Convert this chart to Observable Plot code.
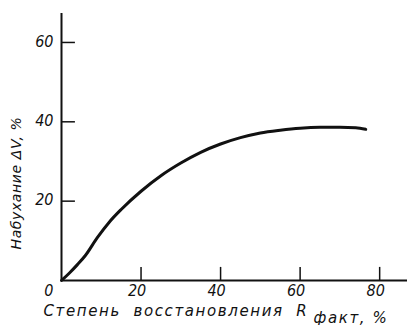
<!DOCTYPE html>
<html>
<head>
<meta charset="utf-8">
<script src="https://cdn.jsdelivr.net/npm/d3@7"></script>
<script src="https://cdn.jsdelivr.net/npm/@observablehq/plot@0.6"></script>
<style>
  html, body { margin: 0; padding: 0; background: #fff; }
  svg { display: block; }
  .ttl text { font-family: "DejaVu Sans", sans-serif; font-style: italic; letter-spacing: 1.6px; }
  .ttly text { font-family: "DejaVu Sans", sans-serif; font-style: italic; letter-spacing: 0.6px; }
  .tick text { font-family: "DejaVu Sans", sans-serif; font-style: italic; font-stretch: condensed; }
</style>
</head>
<body>
<div id="chart"></div>
<script>
// Data
const recovery = [0, 2, 4, 6, 9, 12, 15, 20, 25, 30, 35, 40, 45, 50, 55, 60, 65, 70, 74, 76.5];
const swelling = [0, 1.9, 4.0, 6.3, 10.8, 14.7, 17.9, 22.5, 26.4, 29.6, 32.3, 34.4, 36.0, 37.2, 37.9, 38.4, 38.6, 38.6, 38.5, 38.1];

const xTicks = [0, 20, 40, 60, 80];
const yTicks = [20, 40, 60];

const xTitle = "Степень  восстановления  R";
const xTitleSub = "факт, %";
const yTitle = "Набухание ΔV, %";

const data = recovery.map((x, i) => ({x, y: swelling[i]}));

const chart = Plot.plot({
  width: 407,
  height: 325,
  marginLeft: 61,
  marginRight: 0,
  marginTop: 13,
  marginBottom: 45,
  style: {fontFamily: "'DejaVu Sans', sans-serif", background: "#fff", color: "#111"},
  x: {domain: [0, 87], axis: null},
  y: {domain: [0, 67.3], axis: null},
  marks: [
    // axis lines
    Plot.ruleX([0], {stroke: "#111", strokeWidth: 2}),
    Plot.ruleY([0], {stroke: "#111", strokeWidth: 2}),
    // inward ticks
    Plot.ruleX(xTicks.filter(d => d > 0), {x: d => d, y1: 0, y2: 3.3, stroke: "#111", strokeWidth: 1.5}),
    Plot.ruleY(yTicks, {y: d => d, x1: 0, x2: 3.5, stroke: "#111", strokeWidth: 1.5}),
    // tick labels
    Plot.text(yTicks, {x: 0, y: d => d, text: d => String(d), textAnchor: "end", dx: -8, dy: -1,
      fontSize: 16, fill: "#111", className: "tick"}),
    Plot.text(xTicks.filter(d => d > 0), {x: d => d, y: 0, text: d => String(d), lineAnchor: "top", dy: 4, dx: -4,
      fontSize: 16, fill: "#111", className: "tick"}),
    Plot.text(xTicks.filter(d => d === 0), {x: d => d, y: 0, text: d => String(d), lineAnchor: "top", textAnchor: "end", dy: 4, dx: -8,
      fontSize: 16, fill: "#111", className: "tick"}),
    // axis titles
    Plot.text([xTitle], {frameAnchor: "bottom-left", text: d => d, textAnchor: "start", lineAnchor: "bottom",
      dx: -18, dy: 35, fontSize: 15, fill: "#111", className: "ttl"}),
    Plot.text([xTitleSub], {frameAnchor: "bottom-left", text: d => d, textAnchor: "start", lineAnchor: "bottom",
      dx: 252, dy: 42, fontSize: 15, fill: "#111", className: "ttl"}),
    Plot.text([yTitle], {frameAnchor: "left", text: d => d, rotate: -90, textAnchor: "middle", lineAnchor: "middle",
      dx: -45, dy: 36, fontSize: 14, fill: "#111", className: "ttly"}),
    // curve
    Plot.line(data, {x: "x", y: "y", curve: "monotone-x", stroke: "#111", strokeWidth: 3})
  ]
});
document.getElementById("chart").appendChild(chart);
</script>
</body>
</html>
